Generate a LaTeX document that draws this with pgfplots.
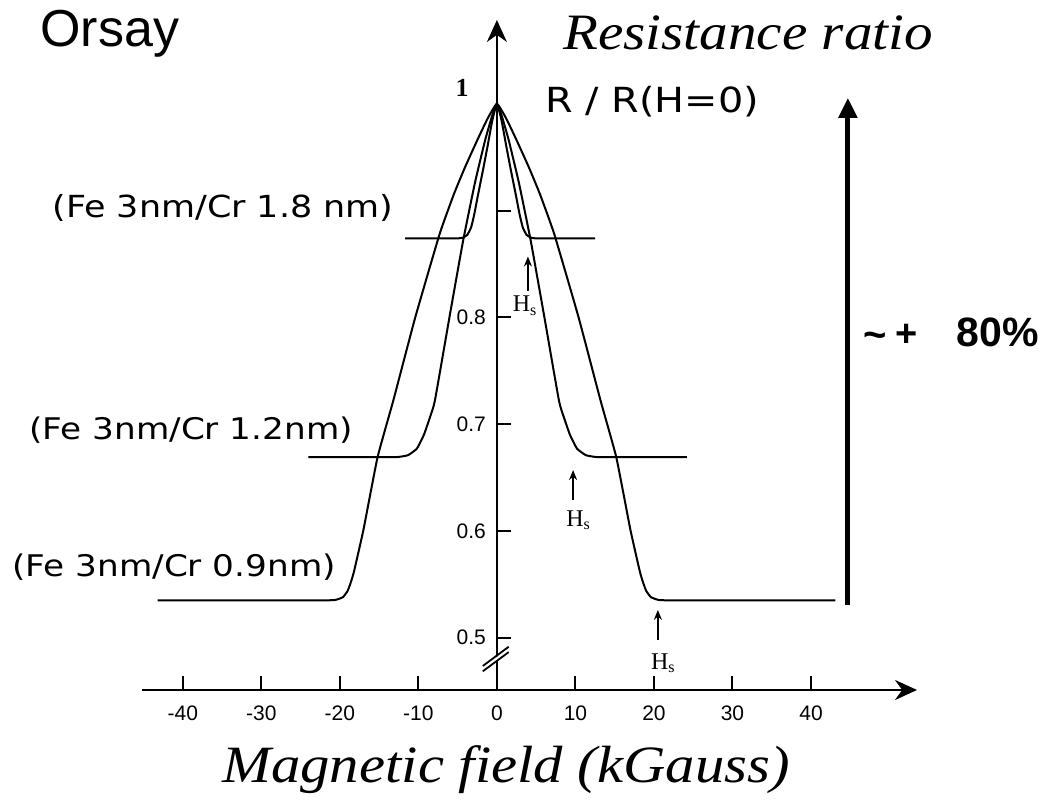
\documentclass[border=0pt]{standalone}
\usepackage{fontspec}
\setmainfont{Liberation Sans}
\newfontfamily\labfont{DejaVu Sans}[FakeStretch=1.15]
\newfontfamily\titfont{Liberation Serif}[FakeStretch=1.12]
\newfontfamily\hsfont{Liberation Serif}
\usepackage{pgfplots}
\pgfplotsset{compat=1.18}
\usetikzlibrary{arrows.meta}

\begin{document}
\begin{tikzpicture}
\useasboundingbox (0,0) rectangle (522pt,400.5pt);
\begin{axis}[
  at={(71pt,55.5pt)}, anchor=south west,
  scale only axis, width=387.5pt, height=335pt,
  xmin=-45.2, xmax=53.5, ymin=0.451, ymax=1.0785,
  axis x line=bottom, axis y line=middle,
  axis line style={line width=1pt, -{Stealth[length=11pt,width=10pt]}},
  clip=false,
  hide obscured x ticks=false, hide obscured y ticks=false,
  xtick={-40,-30,-20,-10,0,10,20,30,40},
  xticklabels={-40,-30,-20,-10,0,10,20,30,40},
  ytick={0.5,0.6,0.7,0.8,0.9},
  yticklabels={0.5,0.6,0.7,0.8,{}},
  tick align=inside,
  major tick length=7pt,
  tick style={line width=1pt, black},
  ticklabel style={font=\fontsize{10.5}{12}\selectfont},
  xticklabel style={yshift=-4.5pt},
  yticklabel style={xshift=-2pt},
  /pgf/number format/assume math mode=true,
]
% Fe 3nm / Cr 0.9 nm
\addplot[black, line width=1pt, smooth, tension=0.25] coordinates {
(-43.2,0.535) (-22,0.535) (-20.5,0.5355) (-19.6,0.538) (-19.0,0.544) (-18.6,0.552) (-18.2,0.562) (-17.0,0.601) (-15.2,0.669) (-13.2,0.722) (-10.4,0.800) (-7.3,0.878) (-5.5,0.915) (-4.1,0.940) (-2.5,0.966) (-1.2,0.986) (0,1.0) (1.2,0.986) (2.5,0.966) (4.1,0.940) (5.5,0.915) (7.3,0.878) (10.4,0.800) (13.2,0.722) (15.2,0.669) (17.0,0.601) (18.2,0.562) (18.6,0.552) (19.0,0.544) (19.6,0.538) (20.5,0.5355) (22,0.535) (43.1,0.535)
};
% Fe 3nm / Cr 1.2 nm
\addplot[black, line width=1pt, smooth, tension=0.25] coordinates {
(-24.0,0.669) (-13.5,0.669) (-12.3,0.6695) (-11.3,0.671) (-10.2,0.677) (-9.3,0.690) (-8.5,0.707) (-7.9,0.722) (-6.0,0.802) (-4.3,0.872) (-2.8,0.926) (-1.5,0.966) (-0.6,0.989) (0,1.0) (0.6,0.989) (1.5,0.966) (2.8,0.926) (4.3,0.872) (6.0,0.802) (7.9,0.722) (8.5,0.707) (9.3,0.690) (10.2,0.677) (11.3,0.671) (12.3,0.6695) (13.5,0.669) (24.2,0.669)
};
% Fe 3nm / Cr 1.8 nm
\addplot[black, line width=1pt, smooth, tension=0.25] coordinates {
(-11.7,0.874) (-5.2,0.874) (-4.4,0.8745) (-3.8,0.877) (-3.3,0.884) (-2.9,0.896) (-2.4,0.915) (-1.8,0.937) (-1.2,0.960) (-0.6,0.984) (0,1.0) (0.6,0.984) (1.2,0.960) (1.8,0.937) (2.4,0.915) (2.9,0.896) (3.3,0.884) (3.8,0.877) (4.4,0.8745) (5.2,0.874) (12.5,0.874)
};
% axis break marks
\fill[white] (axis cs:-1.6,0.4735) -- (axis cs:1.4,0.4895) -- (axis cs:1.4,0.4855) -- (axis cs:-1.6,0.4695) -- cycle;
\draw[line width=0.9pt] (axis cs:-1.8,0.4685) -- (axis cs:1.5,0.4865);
\draw[line width=0.9pt] (axis cs:-1.8,0.4735) -- (axis cs:1.5,0.4915);
% H_s arrows
\draw[line width=0.8pt, -{Stealth[length=5pt,width=4pt]}] (axis cs:3.95,0.825) -- (axis cs:3.95,0.857);
\node[font=\hsfont\fontsize{12}{13}\selectfont] at (axis cs:3.6,0.811) {H\textsubscript{s}};
\draw[line width=0.8pt, -{Stealth[length=5pt,width=4pt]}] (axis cs:9.7,0.629) -- (axis cs:9.7,0.657);
\node[font=\hsfont\fontsize{12}{13}\selectfont] at (axis cs:10.4,0.610) {H\textsubscript{s}};
\draw[line width=0.8pt, -{Stealth[length=5pt,width=4pt]}] (axis cs:20.5,0.498) -- (axis cs:20.5,0.526);
\node[font=\hsfont\fontsize{12}{13}\selectfont] at (axis cs:21.2,0.476) {H\textsubscript{s}};
% big arrow
\draw[line width=2.5pt, -{Triangle[length=10pt,width=9pt]}] (axis cs:44.7,0.531) -- (axis cs:44.7,1.0056);
\end{axis}
\begin{scope}[shift={(0pt,400.5pt)}, x=0.5pt, y=-0.5pt]
\node[anchor=base west, inner sep=0, font=\fontsize{26}{28}\selectfont] at (40,47) {Orsay};
\node[anchor=base west, inner sep=0, font=\titfont\itshape\fontsize{25.5}{28}\selectfont] at (563,50) {Resistance ratio};
\node[anchor=west, inner sep=0, font=\labfont\fontsize{17.3}{19}\selectfont] at (545,102) {R / R(H=0)};
\node[anchor=west, inner sep=0, font=\labfont\fontsize{15.2}{16}\selectfont] at (52,208) {(Fe 3nm/Cr 1.8 nm)};
\node[anchor=west, inner sep=0, font=\labfont\fontsize{14.9}{16}\selectfont] at (29,430) {(Fe 3nm/Cr 1.2nm)};
\node[anchor=west, inner sep=0, font=\labfont\fontsize{14.9}{16}\selectfont] at (12,567) {(Fe 3nm/Cr 0.9nm)};
\node[inner sep=0, font=\hsfont\bfseries\fontsize{13}{14}\selectfont] at (462,88) {1};
\node[anchor=base west, inner sep=0, font=\bfseries\fontsize{20}{20}\selectfont] at (863,349) {\textasciitilde};
\node[anchor=base west, inner sep=0, font=\bfseries\fontsize{19}{20}\selectfont] at (895,347) {+};
\node[anchor=base west, inner sep=0, font=\bfseries\fontsize{20.5}{20}\selectfont] at (956,347) {80\%};
\node[anchor=base west, inner sep=0, font=\titfont\itshape\fontsize{26.2}{28}\selectfont] at (222,783) {Magnetic field (kGauss)};
\end{scope}
\end{tikzpicture}
\end{document}
